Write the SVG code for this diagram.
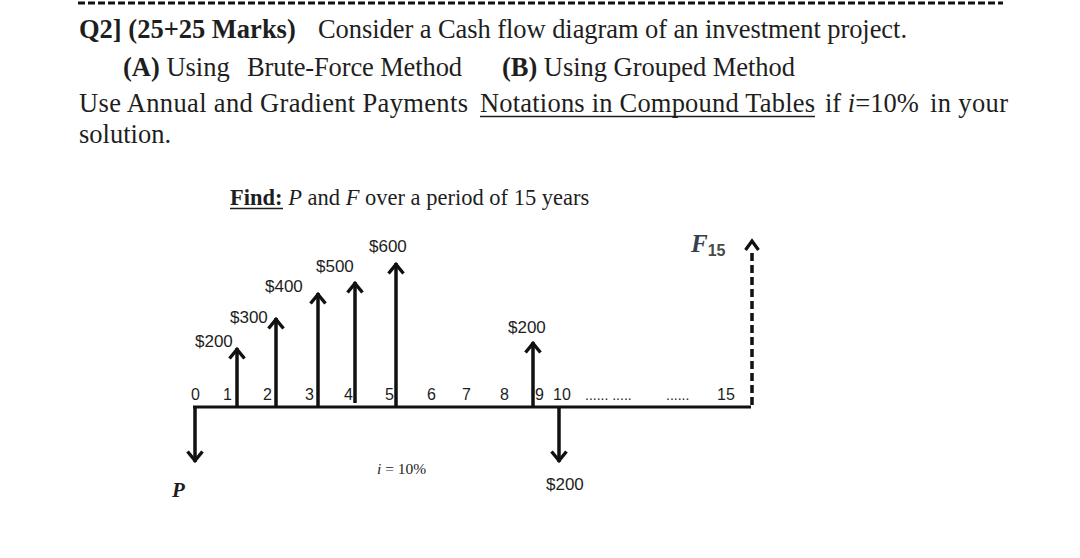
<svg xmlns="http://www.w3.org/2000/svg" width="1080" height="558" viewBox="0 0 1080 558">
<style>
.t{font-family:"Liberation Serif","Times New Roman",serif;fill:#1e1e1e;font-size:26.5px}
.b{font-weight:bold}
.it{font-style:italic}
.s{font-family:"Liberation Sans",Arial,sans-serif;fill:#1e1e1e;font-size:17px}
.n{font-family:"Liberation Sans",Arial,sans-serif;fill:#1e1e1e;font-size:16px}
.ar{stroke:#111;stroke-width:3.5;fill:none}
.ax{stroke:#111;stroke-width:3;fill:none}
</style>
<defs>
<marker id="h" markerUnits="userSpaceOnUse" viewBox="-14 -10 16 20" refX="0" refY="0" markerWidth="16" markerHeight="20" orient="auto">
<path d="M-10.5,-7.5 L-1.5,0 L-10.5,7.5" stroke="#111" stroke-width="3.4" fill="none"/>
</marker>
</defs>
<rect width="1080" height="558" fill="#fff"/>
<line x1="78" y1="3" x2="1003" y2="3" stroke="#111" stroke-width="3" stroke-dasharray="7,3"/>
<g id="header">
<text class="t b" x="79" y="38">Q2] (25+25 Marks)</text>
<text class="t" x="318" y="38" textLength="589" lengthAdjust="spacing">Consider a Cash flow diagram of an investment project.</text>
<text class="t" x="123" y="76"><tspan class="b">(A)</tspan> Using</text>
<text class="t" x="247" y="76" textLength="215" lengthAdjust="spacing">Brute-Force Method</text>
<text class="t" x="502" y="76" textLength="293" lengthAdjust="spacing"><tspan class="b">(B)</tspan> Using Grouped Method</text>
<text class="t" x="79" y="112" textLength="389" lengthAdjust="spacing">Use Annual and Gradient Payments</text>
<text class="t" x="480" y="112" textLength="335" lengthAdjust="spacing">Notations in Compound Tables</text>
<line x1="480" y1="116.5" x2="815" y2="116.5" stroke="#1e1e1e" stroke-width="1.6"/>
<text class="t" x="825" y="112">if <tspan class="it">i</tspan>=10%</text>
<text class="t" x="930" y="112" textLength="78" lengthAdjust="spacing">in your</text>
<text class="t" x="79" y="143">solution.</text>
</g>
<g id="find">
<text class="t" x="230" y="205" style="font-size:22.5px"><tspan class="b">Find:</tspan> <tspan class="it">P</tspan> and <tspan class="it">F</tspan> over a period of 15 years</text>
<line x1="230" y1="208.5" x2="283" y2="208.5" stroke="#1e1e1e" stroke-width="1.5"/>
</g>
<g id="connectors">
<line class="ax" x1="193" y1="407" x2="751" y2="407"/>
<line class="ar" x1="195" y1="406" x2="195" y2="462" marker-end="url(#h)"/>
<line class="ar" x1="237" y1="407" x2="237" y2="348" marker-end="url(#h)"/>
<line class="ar" x1="276" y1="407" x2="276" y2="318" marker-end="url(#h)"/>
<line class="ar" x1="318" y1="407" x2="318" y2="293" marker-end="url(#h)"/>
<line class="ar" x1="355" y1="403" x2="355" y2="282" marker-end="url(#h)"/>
<line class="ar" x1="396" y1="407" x2="396" y2="263" marker-end="url(#h)"/>
<line class="ar" x1="533" y1="407" x2="533" y2="342" marker-end="url(#h)"/>
<line class="ar" x1="559" y1="406" x2="559" y2="462" marker-end="url(#h)"/>
<line x1="752" y1="405" x2="752" y2="250" stroke="#111" stroke-width="3.5" stroke-dasharray="8,4"/>
<path d="M745.5,250 L752,241 L758.5,250" stroke="#111" stroke-width="3.2" fill="none"/>
</g>
<g id="labels">
<text class="s" x="195" y="347">$200</text>
<text class="s" x="230" y="323">$300</text>
<text class="s" x="265" y="292">$400</text>
<text class="s" x="316" y="272">$500</text>
<text class="s" x="369" y="252">$600</text>
<text class="s" x="508" y="333">$200</text>
<text class="s" x="546" y="490">$200</text>
<text class="n" x="191" y="400">0</text>
<text class="n" x="223" y="400">1</text>
<text class="n" x="263" y="400">2</text>
<text class="n" x="305" y="400">3</text>
<text class="n" x="344" y="400">4</text>
<text class="n" x="385" y="400">5</text>
<text class="n" x="427" y="400">6</text>
<text class="n" x="462" y="400">7</text>
<text class="n" x="500" y="400">8</text>
<text class="n" x="535" y="400">9</text>
<text class="n" x="553" y="400">10</text>
<text class="n" x="585" y="400" style="font-size:14px">...... .....</text>
<text class="n" x="666" y="400" style="font-size:14px">......</text>
<text class="n" x="717" y="400">15</text>
<text class="t it" x="377" y="474" style="font-size:15.5px">i<tspan font-style="normal"> = 10%</tspan></text>
<text class="t it b" x="172" y="497" style="font-size:21px">P</text>
<text class="t it b" x="691" y="252" style="font-size:25px;fill:#34404e">F<tspan class="s" font-style="normal" font-weight="bold" dy="4" style="font-size:16px;fill:#4a4a4a">15</tspan></text>
</g>
</svg>
